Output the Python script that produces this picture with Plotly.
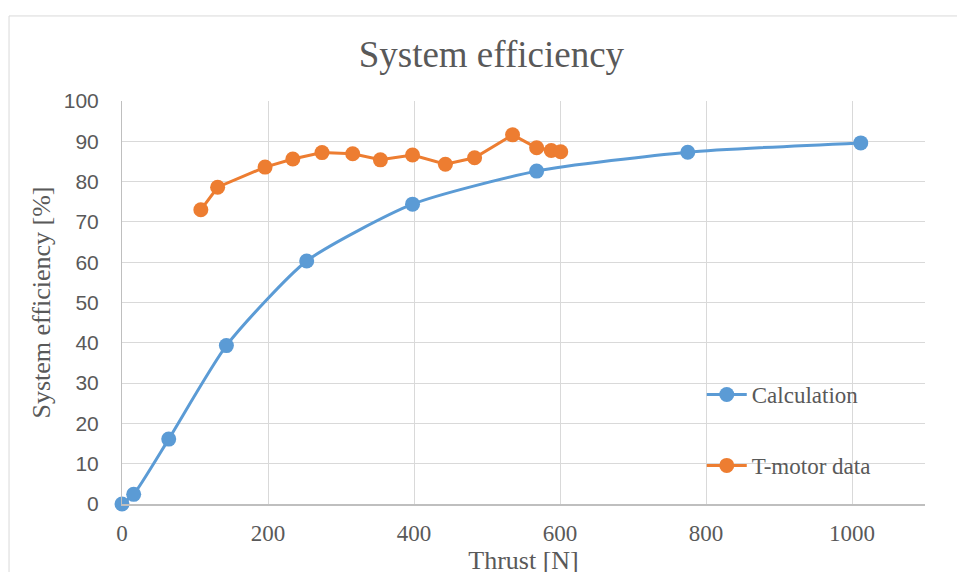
import plotly.graph_objects as go

# Calculation curve
calc_thrust = [0, 16, 64, 143, 253, 398, 568, 775, 1012]
calc_eff = [0, 2.4, 16.1, 39.3, 60.3, 74.4, 82.6, 87.3, 89.6]

# T-motor measured data
tm_thrust = [108, 131, 196, 234, 274, 316, 354, 398, 443, 483, 535, 568, 588, 601]
tm_eff = [73.0, 78.6, 83.6, 85.6, 87.2, 86.9, 85.4, 86.6, 84.3, 85.9, 91.6, 88.4, 87.7, 87.4]

x_ticks = [0, 200, 400, 600, 800, 1000]
y_ticks = [0, 10, 20, 30, 40, 50, 60, 70, 80, 90, 100]

serif = "Liberation Serif, Times New Roman, serif"
sans = "Liberation Sans, Arial, sans-serif"
text_col = "#595959"

fig = go.Figure()

fig.add_trace(go.Scatter(
    x=calc_thrust, y=calc_eff, mode="lines+markers", name="Calculation",
    line=dict(color="#5B9BD5", width=3, shape="spline", smoothing=0.6),
    marker=dict(color="#5B9BD5", size=15),
    legendgroup="a", cliponaxis=False,
))
fig.add_trace(go.Scatter(
    x=tm_thrust, y=tm_eff, mode="lines+markers", name="T-motor data",
    line=dict(color="#ED7D31", width=3),
    marker=dict(color="#ED7D31", size=15),
    legendgroup="b", cliponaxis=False,
))

# the page body has an 8px margin, so the margins are shifted by that
fig.update_layout(
    width=965, height=572,
    margin=dict(l=114, r=48, t=93, b=76),
    paper_bgcolor="white", plot_bgcolor="white",
    title=dict(text="System efficiency", x=0.46, xref="paper", xanchor="center",
               y=0.92, yanchor="middle",
               font=dict(family=serif, size=37, color=text_col)),
    legend=dict(x=0.722, y=0.325, xanchor="left", yanchor="top",
                font=dict(family=serif, size=23, color=text_col),
                bgcolor="rgba(0,0,0,0)", traceorder="grouped", tracegroupgap=38,
                itemwidth=40),
    showlegend=True,
)

fig.update_xaxes(
    range=[0, 1100], tickvals=x_ticks, showgrid=True, gridcolor="#D9D9D9", gridwidth=1,
    zeroline=False, showline=True, linecolor="#BFBFBF", linewidth=1.5,
    tickfont=dict(family=serif, size=23, color=text_col), ticks="", ticklabelstandoff=8,
    title=dict(text="Thrust [N]", font=dict(family=serif, size=26, color=text_col), standoff=2),
)
fig.update_yaxes(
    range=[0, 100], tickvals=y_ticks, showgrid=True, gridcolor="#D9D9D9", gridwidth=1,
    zeroline=False, showline=True, linecolor="#BFBFBF", linewidth=1,
    tickfont=dict(family=sans, size=21, color=text_col), ticks="", ticklabelstandoff=18,
    title=dict(text="System efficiency [%]", font=dict(family=serif, size=26, color=text_col), standoff=5),
)

# chart-area border
fig.add_shape(type="rect", xref="paper", yref="paper",
              x0=-0.1407, x1=1.046, y0=-0.2, y1=1.211,
              line=dict(color="#D9D9D9", width=1), fillcolor="rgba(0,0,0,0)", layer="below")

fig.write_html("out.html")
